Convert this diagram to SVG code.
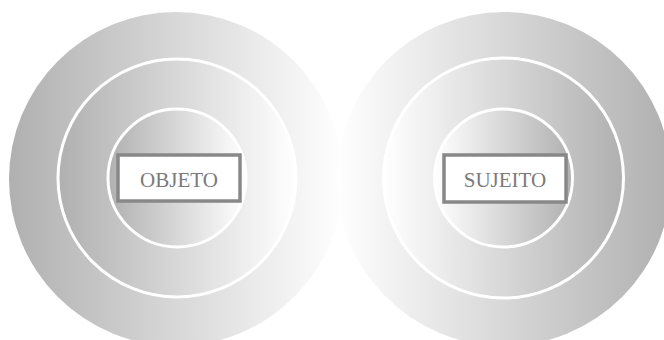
<svg xmlns="http://www.w3.org/2000/svg" width="664" height="340" viewBox="0 0 664 340">
  <defs>
    <linearGradient id="gL" x1="0" y1="0" x2="1" y2="0">
      <stop offset="0" stop-color="#b0b0b0"/>
      <stop offset="1" stop-color="#ffffff"/>
    </linearGradient>
    <linearGradient id="gR" x1="0" y1="0" x2="1" y2="0">
      <stop offset="0" stop-color="#ffffff"/>
      <stop offset="1" stop-color="#b0b0b0"/>
    </linearGradient>
  </defs>
  <style>
    .outer { stroke: none; }
    .ring { stroke: #ffffff; stroke-width: 3; }
    .box { fill: #ffffff; stroke: #888888; stroke-width: 3.5; }
    .lbl { font-family: "Liberation Serif", "Times New Roman", serif; font-size: 21px; fill: #7a7a7a; text-anchor: middle; }
  </style>
  <g id="left-circles">
    <circle class="outer" cx="176" cy="179" r="167" fill="url(#gL)"/>
    <circle class="ring" cx="177" cy="178" r="119" fill="url(#gL)"/>
    <circle class="ring" cx="177" cy="178" r="69" fill="url(#gL)"/>
  </g>
  <g id="right-circles">
    <circle class="outer" cx="504" cy="179" r="167" fill="url(#gR)"/>
    <circle class="ring" cx="503.5" cy="178" r="120" fill="url(#gR)"/>
    <circle class="ring" cx="503.5" cy="178" r="69" fill="url(#gR)"/>
  </g>
  <g id="connectors"/>
  <g id="objeto">
    <rect class="box" x="118" y="155" width="122" height="46"/>
    <text class="lbl" x="179" y="186.5">OBJETO</text>
  </g>
  <g id="sujeito">
    <rect class="box" x="444" y="155" width="122" height="47"/>
    <text class="lbl" x="505" y="186.5">SUJEITO</text>
  </g>
</svg>
